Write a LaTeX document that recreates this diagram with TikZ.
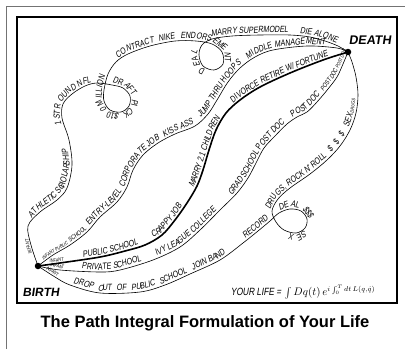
\documentclass[tikz,border=0pt]{standalone}
\usepackage{fontspec}
\usepackage{amsmath, amssymb}
\usetikzlibrary{decorations.text}
\usetikzlibrary{positioning}

\newfontfamily\hand{Liberation Sans}[FakeSlant=0.15, FakeStretch=0.78]
\newfontfamily\handbold{Liberation Sans Bold}[FakeSlant=0.15]
\newfontfamily\titlefont{Liberation Sans Bold}
\newcommand\saysize{\hand\fontsize{9}{10}\selectfont}
\newcommand\quietsize{\hand\fontsize{6.5}{7}\selectfont}
\newcommand\mumblesize{\hand\fontsize{5}{5}\selectfont}

\tikzset{
  route/.style={line width=0.6pt, smooth, tension=0.55},
  classic/.style={line width=1.6pt, smooth, tension=0.55},
  dot/.style={circle, fill=black, inner sep=0pt, minimum size=6.5pt},
  say/.style 2 args={postaction={decorate, decoration={text along path, raise=2.2pt,
      text align={left indent=#1}, text={|\saysize|#2}}}},
  quiet/.style 2 args={postaction={decorate, decoration={text along path, raise=1.8pt,
      text align={left indent=#1}, text={|\quietsize|#2}}}},
  mumble/.style 2 args={postaction={decorate, decoration={text along path, raise=1.5pt,
      text align={left indent=#1}, text={|\mumblesize|#2}}}},
}

\begin{document}
\begin{tikzpicture}[x=1pt, y=-1pt]
  \useasboundingbox (0,0) rectangle (405,349);

  % page edge and comic frame
  \draw[black!55, line width=0.8pt] (6,349) -- (6,6) -- (405,6);
  \draw[line width=1.4pt] (17,17) rectangle (397,303);

  % the two end points
  \node[dot] (birth) at (38,266) {};
  \node[dot] (death) at (348,52) {};
  \node[font=\handbold\fontsize{12}{12}\selectfont] (birthlabel) at (41,292) {BIRTH};
  \node[font=\handbold\fontsize{12.5}{12}\selectfont] (deathlabel) at (370,40) {DEATH};

  % athlete
  \draw[route] plot coordinates {(birth.center) (31,245) (28,226) (40,212) (57,200) (67,188)
      (72,165) (69,140) (62,118) (63,104) (72,94) (85,86) (97,83) (112,85) (123,88) (130,96)
      (129,106) (121,112) (110,110) (104,101) (104,90) (108,74) (116,62) (128,54) (150,46)
      (175,41) (196,41) (212,44) (222,52) (223,64) (214,70) (203,66) (199,55) (202,45)
      (212,39) (232,36) (260,35) (290,35) (310,37) (325,41) (338,46) (death.center)};
  \path[mumble={14pt}{INFANT}, say={50pt}{ATHLETIC SCHOLARSHIP}, say={162pt}{1ST ROUND NFL},
        say={238pt}{DRAFT PICK {\$}100 MILLION},
        say={348pt}{CONTRACT {\kern3pt}NIKE {\kern3pt}ENDORSEMENT}, say={489pt}{DEAL},
        say={526pt}{MARRY SUPERMODEL}, say={614pt}{DIE ALONE}]
    plot coordinates {(birth.center) (31,245) (28,226) (40,212) (57,200) (67,188)
      (72,165) (69,140) (62,118) (63,104) (72,94) (85,86) (97,83) (112,85) (123,88) (130,96)
      (129,106) (121,112) (110,110) (104,101) (104,90) (108,74) (116,62) (128,54) (150,46)
      (175,41) (196,41) (212,44) (222,52) (223,64) (214,70) (203,66) (199,55) (202,45)
      (212,39) (232,36) (260,35) (290,35) (310,37) (325,41) (338,46) (death.center)};

  % office
  \draw[route] plot coordinates {(birth.center) (53,255) (70,245) (87,232) (100,217)
      (117,202) (127,187) (133,170) (143,155) (158,143) (175,134) (195,126) (208,114)
      (217,100) (228,82) (240,68) (255,57) (273,50) (307,46) (337,48) (death.center)};
  \path[mumble={8pt}{INFANT PUBLIC}, quiet={40pt}{SCHOOL},
        say={66pt}{ENTRY-LEVEL{\kern3pt} CORPORATE JOB{\kern3pt} KISS ASS},
        say={226pt}{JUMP THRU HOOPS{\kern6pt} MIDDLE MANAGEMENT}]
    plot coordinates {(birth.center) (53,255) (70,245) (87,232) (100,217)
      (117,202) (127,187) (133,170) (143,155) (158,143) (175,134) (195,126) (208,114)
      (217,100) (228,82) (240,68) (255,57) (273,50) (307,46) (337,48) (death.center)};

  % the classical path
  \draw[classic] plot coordinates {(birth.center) (60,263) (100,257) (125,251) (145,245)
      (162,235) (175,220) (187,203) (197,186) (203,170) (209,150) (216,130) (226,113)
      (240,100) (260,87) (290,73) (323,60) (death.center)};
  \path[mumble={12pt}{INFANT}, say={46pt}{PUBLIC SCHOOL}, say={120pt}{CRAPPY JOB},
        say={186pt}{MARRY 2.1 CHILDREN}, say={280pt}{DIVORCE RETIRE W/ FORTUNE}]
    plot coordinates {(birth.center) (60,263) (100,257) (125,251) (145,245)
      (162,235) (175,220) (187,203) (197,186) (203,170) (209,150) (216,130) (226,113)
      (240,100) (260,87) (290,73) (323,60) (death.center)};

  % academic
  \draw[route] plot coordinates {(birth.center) (60,270) (100,272) (120,270) (153,260)
      (180,247) (200,230) (220,210) (237,193) (248,178) (256,163) (264,148) (275,136)
      (287,124) (297,117) (307,112) (317,102) (328,89) (337,77) (343,64) (death.center)};
  \path[mumble={12pt}{INFANT}, say={44pt}{PRIVATE SCHOOL}, say={122pt}{IVY LEAGUE COLLEGE},
        say={220pt}{GRAD SCHOOL},
        say={274pt}{POST DOC{\kern7pt} POST DOC{\kern3pt} |\quietsize|POST DOC |\mumblesize|POST DOC}]
    plot coordinates {(birth.center) (60,270) (100,272) (120,270) (153,260)
      (180,247) (200,230) (220,210) (237,193) (248,178) (256,163) (264,148) (275,136)
      (287,124) (297,117) (307,112) (317,102) (328,89) (337,77) (343,64) (death.center)};

  % rock star
  \draw[route] plot coordinates {(birth.center) (55,277) (70,285) (100,293) (140,292)
      (165,285) (190,274) (220,260) (243,243) (258,231) (270,221) (279,213) (290,209)
      (301,211) (307,219) (305,228) (296,233) (284,230) (276,222) (272,211) (278,199)
      (290,188) (310,174) (327,160) (340,146) (350,130) (356,113) (358,95) (356,77)
      (352,62) (death.center)};
  \path[mumble={8pt}{INFANT},
        say={40pt}{DROP {\kern3pt}OUT {\kern3pt}OF {\kern3pt}PUBLIC {\kern3pt}SCHOOL},
        say={166pt}{JOIN BAND}, say={228pt}{RECORD}, say={272pt}{DEAL {\$}{\$}{\$}{\kern8pt} SEX},
        say={358pt}{DRUGS, ROCK N' ROLL{\kern4pt} {\$}{\kern6pt}{\$}{\kern6pt}{\$}{\kern6pt} SEX |\mumblesize|DRUGS}]
    plot coordinates {(birth.center) (55,277) (70,285) (100,293) (140,292)
      (165,285) (190,274) (220,260) (243,243) (258,231) (270,221) (279,213) (290,209)
      (301,211) (307,219) (305,228) (296,233) (284,230) (276,222) (272,211) (278,199)
      (290,188) (310,174) (327,160) (340,146) (350,130) (356,113) (358,95) (356,77)
      (352,62) (death.center)};

  % the formula
  \node[font=\fontsize{10.5}{12}\selectfont] (life) at (303,292)
    {{\hand YOUR LIFE =} $\int Dq(t)\, e^{i\int_0^T dt\, L(q,\dot q)}$};

  % caption
  \node[font=\titlefont\fontsize{16.5}{18}\selectfont] (title) at (205,323)
    {The Path Integral Formulation of Your Life};
\end{tikzpicture}
\end{document}
